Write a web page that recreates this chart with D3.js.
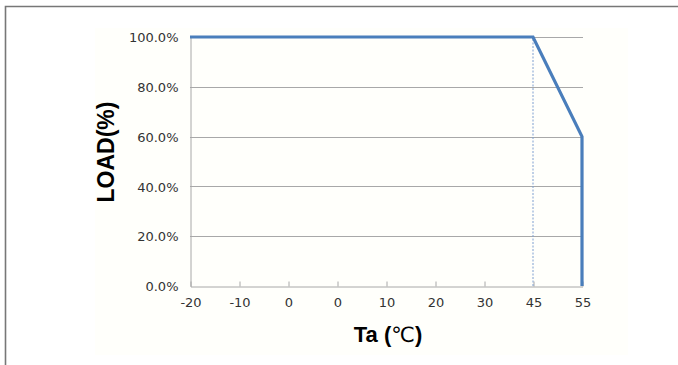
<!DOCTYPE html>
<html><head><meta charset="utf-8">
<script src="https://cdn.jsdelivr.net/npm/d3@7/dist/d3.min.js"></script>
<style>
html,body{margin:0;padding:0;background:#fff;}
svg{display:block;}
</style></head>
<body>
<svg id="chart" width="678" height="365"></svg>
<script>
const categories = ["-20","-10","0","0","10","20","30","45","55"];
const loadValues = [100,100,100,100,100,100,100,100,60];
const dropValue = 0;          // vertical drop at the last category
const markerIndex = 7;        // dashed marker at 45
const yTicks = [0,20,40,60,80,100];

const svg = d3.select("#chart");
const W = 678, H = 365;
const m = {left:190, right:96, top:37, bottom:79};
const pw = W - m.left - m.right, ph = H - m.top - m.bottom;

// outer frame
svg.append("rect").attr("x",95).attr("y",28).attr("width",533).attr("height",327).attr("fill","#fffffb");
svg.append("path").attr("d",`M5.5,${H} V6.5 H${W}`).attr("fill","none").attr("stroke","#777").attr("stroke-width",1.6);

const x = d3.scalePoint().domain(d3.range(categories.length)).range([m.left, m.left+pw]);
const y = d3.scaleLinear().domain([0,100]).range([m.top+ph, m.top]);

const g = svg.append("g");
// gridlines
g.selectAll("line.grid").data(yTicks.filter(d=>d>0)).join("line")
  .attr("x1",m.left).attr("x2",m.left+pw+1)
  .attr("y1",d=>Math.round(y(d))+0.5).attr("y2",d=>Math.round(y(d))+0.5)
  .attr("stroke","#a8a8a8").attr("stroke-width",1);

// y axis
const yAxis = d3.axisLeft(y).tickValues(yTicks).tickSize(0).tickPadding(12).tickFormat(d=>d.toFixed(1)+"%");
const ya = svg.append("g").attr("transform",`translate(${m.left+0.5},0.5)`).call(yAxis);
ya.select(".domain").attr("stroke","#a8a8a8");
ya.selectAll("text").attr("font-family","Verdana, 'DejaVu Sans', sans-serif").attr("font-size",13).attr("fill","#333");

// x axis
const xAxis = d3.axisBottom(x).tickSizeInner(-5).tickSizeOuter(0).tickPadding(11).tickFormat(i=>categories[i]);
const xa = svg.append("g").attr("transform",`translate(0.5,${m.top+ph+0.5})`).call(xAxis);
xa.select(".domain").attr("stroke","#a8a8a8");
xa.selectAll(".tick line").attr("stroke","#a8a8a8");
xa.selectAll("text").attr("font-family","Verdana, 'DejaVu Sans', sans-serif").attr("font-size",13).attr("fill","#333");

// dashed marker
svg.append("line")
  .attr("x1",x(markerIndex)).attr("x2",x(markerIndex))
  .attr("y1",y(0)).attr("y2",y(100))
  .attr("stroke","#7f9fd0").attr("stroke-width",1).attr("stroke-dasharray","2,1.5");

// derating line
const pts = loadValues.map((v,i)=>[i,v]);
pts.push([categories.length-1, dropValue]);
svg.append("path").datum(pts)
  .attr("d", d3.line().x(d=>x(d[0])).y(d=>y(d[1])))
  .attr("fill","none").attr("stroke","#4a7ebb").attr("stroke-width",3.2).attr("stroke-linejoin","miter");

// titles
svg.append("text").attr("transform",`translate(114,152) rotate(-90)`)
  .attr("text-anchor","middle").attr("font-family","'Liberation Sans', Arial, sans-serif")
  .attr("font-weight","bold").attr("font-size",23).attr("fill","#000").text("LOAD(%)");
const xt = svg.append("text").attr("x",388).attr("y",342).attr("text-anchor","middle")
  .attr("font-family","'Liberation Sans', Arial, sans-serif").attr("font-size",22).attr("fill","#000");
xt.append("tspan").attr("font-weight","bold").text("Ta (");
xt.append("tspan").attr("font-family","'DejaVu Sans', sans-serif").attr("font-size",21).text("℃");
xt.append("tspan").attr("font-weight","bold").text(")");
</script>
</body></html>
